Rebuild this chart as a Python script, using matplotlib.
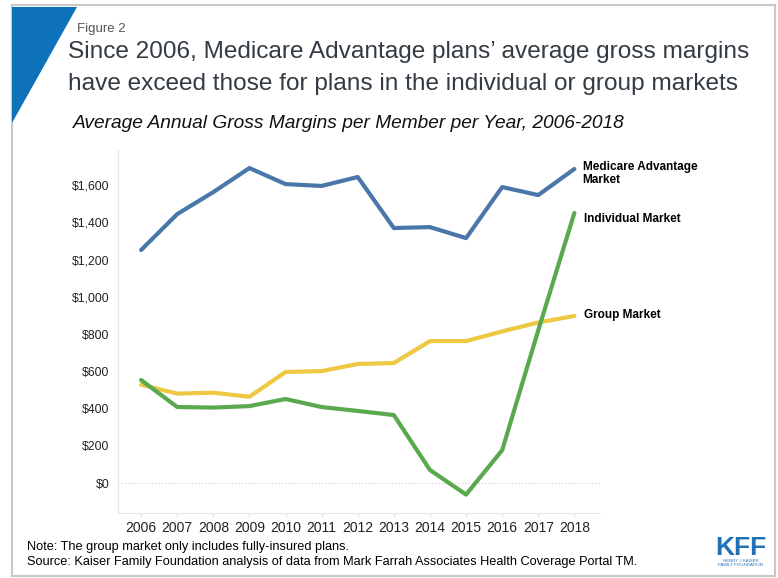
import matplotlib.pyplot as plt
from matplotlib.patches import Polygon, Rectangle

years = list(range(2006, 2019))
medicare_adv = [1251, 1444, 1562, 1691, 1605, 1595, 1643, 1369, 1374, 1315, 1589, 1546, 1686]
group_mkt = [528, 480, 485, 463, 596, 601, 639, 644, 762, 762, 814, 862, 897]
individual_mkt = [553, 408, 405, 413, 451, 408, 387, 365, 70, -62, 176, 820, 1450]
y_ticks = [0, 200, 400, 600, 800, 1000, 1200, 1400, 1600]

plt.rcParams['font.family'] = ['Liberation Sans', 'DejaVu Sans']

fig = plt.figure(figsize=(7.78, 5.78), dpi=100)

# frame round the slide and the blue corner
fig.patches.append(Rectangle((12 / 778, 2 / 578), 763 / 778, 571 / 578, transform=fig.transFigure,
                             fill=False, edgecolor='#c8c8c8', linewidth=1.5))
fig.patches.append(Polygon([(12 / 778, 1 - 7 / 578), (77 / 778, 1 - 7 / 578), (12 / 778, 1 - 123 / 578)],
                           closed=True, transform=fig.transFigure, facecolor='#0d72ba', edgecolor='none'))

fig.text(77 / 778, 1 - 29 / 578, 'Figure 2', fontsize=9.5, color='#555555', va='center')
fig.text(68 / 778, 1 - 52 / 578, 'Since 2006, Medicare Advantage plans\u2019 average gross margins',
         fontsize=17.6, color='#333b44', va='center')
fig.text(68 / 778, 1 - 84 / 578, 'have exceed those for plans in the individual or group markets',
         fontsize=17.6, color='#333b44', va='center')
fig.text(73 / 778, 1 - 123 / 578, 'Average Annual Gross Margins per Member per Year, 2006-2018',
         fontsize=13.8, style='italic', color='#111111', va='center')

ax = fig.add_axes([118 / 778, 1 - 513 / 578, (600 - 118) / 778, (513 - 150) / 578])

ax.plot(years, medicare_adv, color='#4a77a9', linewidth=3, solid_capstyle='round')
ax.plot(years, group_mkt, color='#eec843', linewidth=3, solid_capstyle='round')
ax.plot(years, individual_mkt, color='#5aa94e', linewidth=3, solid_capstyle='round')
ax.axhline(0, color='#cccccc', linewidth=0.8, linestyle=(0, (1, 2)), zorder=0)

ax.set_xlim(2005.36, 2018.71)
ax.set_ylim(-161, 1788)
ax.set_xticks(years)
ax.set_xticklabels([str(y) for y in years])
ax.set_yticks(y_ticks)
ax.set_yticklabels(['$0' if v == 0 else '${:,}'.format(v) for v in y_ticks])
ax.tick_params(axis='y', length=0, pad=6, labelsize=8.8, labelcolor='#222222')
ax.tick_params(axis='x', length=3, color='#e6e6e6', pad=3, labelsize=10, labelcolor='#222222')

for side in ['top', 'right']:
    ax.spines[side].set_visible(False)
ax.spines['left'].set_color('#e6e6e6')
ax.spines['bottom'].set_color('#e6e6e6')

# series labels at the line ends
ax.annotate('Medicare Advantage\nMarket', xy=(years[-1], medicare_adv[-1]), xytext=(6, -3),
            textcoords='offset points', fontsize=8.5, fontweight='bold', va='center', linespacing=1.1)
ax.annotate('Individual Market', xy=(years[-1], individual_mkt[-1]), xytext=(7, -4),
            textcoords='offset points', fontsize=8.5, fontweight='bold', va='center')
ax.annotate('Group Market', xy=(years[-1], group_mkt[-1]), xytext=(7, 1),
            textcoords='offset points', fontsize=8.5, fontweight='bold', va='center')

fig.text(27 / 778, 1 - 547 / 578, 'Note: The group market only includes fully-insured plans.',
         fontsize=9.2, va='center')
fig.text(27 / 778, 1 - 562 / 578,
         'Source: Kaiser Family Foundation analysis of data from Mark Farrah Associates Health Coverage Portal TM.',
         fontsize=9.2, va='center')

# KFF logo
fig.text(741 / 778, 1 - 548 / 578, 'KFF', fontsize=19, fontweight='bold', color='#1f72b8',
         ha='center', va='center')
fig.text(741 / 778, 1 - 563 / 578, 'HENRY J KAISER\nFAMILY FOUNDATION', fontsize=3.2, color='#1f72b8',
         ha='center', va='center', linespacing=1.0)

fig.savefig('out.png', dpi=100)
